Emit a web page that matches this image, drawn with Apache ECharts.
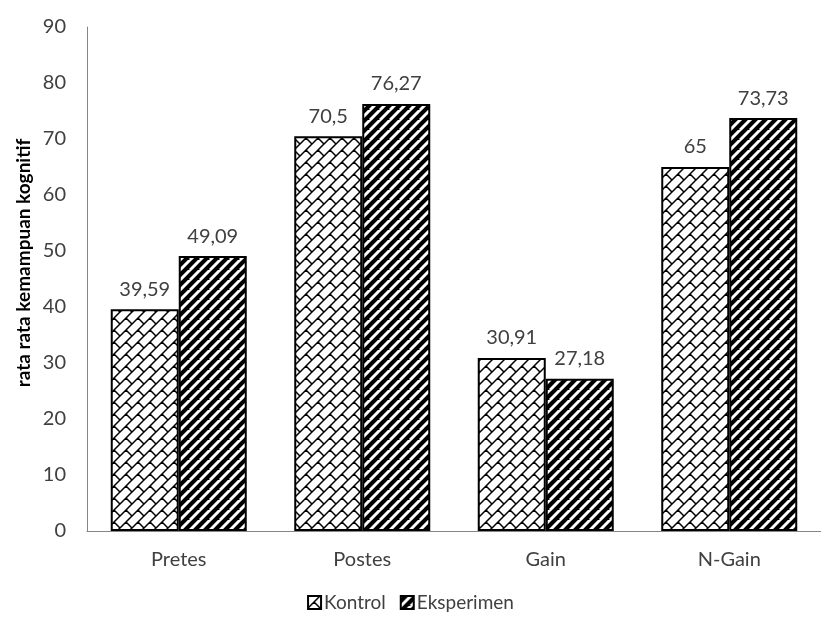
<!DOCTYPE html>
<html>
<head>
<meta charset="utf-8">
<script src="https://cdn.jsdelivr.net/npm/echarts@6/dist/echarts.min.js"></script>
<style>
  html, body { margin: 0; padding: 0; background: #fff; }
  #chart { width: 821px; height: 617px; }
</style>
</head>
<body>
<div id="chart"></div>
<script>
// Test stages on the category axis
const categories = ['Pretes', 'Postes', 'Gain', 'N-Gain'];
// Mean cognitive scores per group
const kontrolValues = [39.59, 70.5, 30.91, 65];
const eksperimenValues = [49.09, 76.27, 27.18, 73.73];
const seriesNames = ['Kontrol', 'Eksperimen'];
const yTicks = { min: 0, max: 90, interval: 10 };

const FONT = 'Lato, "Open Sans", sans-serif';
const TEXT = '#404040';

// Diagonal brick fill: white background, black "/" rows joined by staggered "\" segments
function brickPattern() {
  const s = 12;
  const c = document.createElement('canvas');
  c.width = s; c.height = s;
  const g = c.getContext('2d');
  g.fillStyle = '#fff';
  g.fillRect(0, 0, s, s);
  g.strokeStyle = '#000';
  g.lineWidth = 1.5;
  g.beginPath();
  g.moveTo(-2, s + 2); g.lineTo(s + 2, -2);
  g.moveTo(-2, 2); g.lineTo(2, -2);
  g.moveTo(s - 2, s + 2); g.lineTo(s + 2, s - 2);
  g.moveTo(s / 2, s / 2); g.lineTo(s + 1, s + 1);
  g.moveTo(-1, -1); g.lineTo(0.5, 0.5);
  g.stroke();
  return c;
}

// Wide upward diagonal fill: black background, white "/" stripes
function stripePattern() {
  const s = 10;
  const c = document.createElement('canvas');
  c.width = s; c.height = s;
  const g = c.getContext('2d');
  g.fillStyle = '#000';
  g.fillRect(0, 0, s, s);
  g.strokeStyle = '#fff';
  g.lineWidth = 3;
  g.beginPath();
  for (let k = -1; k <= 2; k++) {
    g.moveTo(-s + k * s, s); g.lineTo(s + k * s, -s);
  }
  g.stroke();
  return c;
}

const fmt = p => String(p.value).replace('.', ',');

const chart = echarts.init(document.getElementById('chart'), null, { renderer: 'canvas' });

function barSeries(name, data, pattern) {
  return {
    name: name,
    type: 'bar',
    data: data,
    barWidth: 68,
    barGap: '0%',
    itemStyle: {
      color: { image: pattern, repeat: 'repeat' },
      borderColor: '#000',
      borderWidth: 2
    },
    label: {
      show: true,
      position: 'top',
      distance: 10,
      formatter: fmt,
      color: TEXT,
      fontSize: 20,
      fontFamily: FONT
    }
  };
}

chart.setOption({
  animation: false,
  backgroundColor: '#fff',
  grid: { left: 87, right: -10, top: 27, bottom: 86, containLabel: false },
  legend: {
    bottom: 0,
    left: 'center',
    itemWidth: 13,
    itemHeight: 13,
    itemGap: 14,
    icon: 'rect',
    textStyle: { color: TEXT, fontSize: 19, fontFamily: FONT, padding: [0, 0, 0, -2] },
    data: seriesNames
  },
  xAxis: {
    type: 'category',
    data: categories,
    axisLine: { lineStyle: { color: '#868686', width: 1 } },
    axisTick: { show: false },
    axisLabel: { color: TEXT, fontSize: 20, fontFamily: FONT, margin: 19 }
  },
  yAxis: {
    type: 'value',
    min: yTicks.min,
    max: yTicks.max,
    interval: yTicks.interval,
    axisLine: { show: true, lineStyle: { color: '#868686', width: 1 } },
    axisTick: { show: false },
    splitLine: { show: false },
    axisLabel: { color: TEXT, fontSize: 20, fontFamily: FONT, margin: 21 }
  },
  graphic: [{
    type: 'text',
    x: 24,
    y: 263,
    rotation: Math.PI / 2,
    style: {
      text: 'rata rata kemampuan kognitif',
      font: 'bold 19px ' + FONT,
      fill: '#000',
      align: 'center',
      verticalAlign: 'middle'
    }
  }],
  series: [
    barSeries(seriesNames[0], kontrolValues, brickPattern()),
    barSeries(seriesNames[1], eksperimenValues, stripePattern())
  ]
});
</script>
</body>
</html>
